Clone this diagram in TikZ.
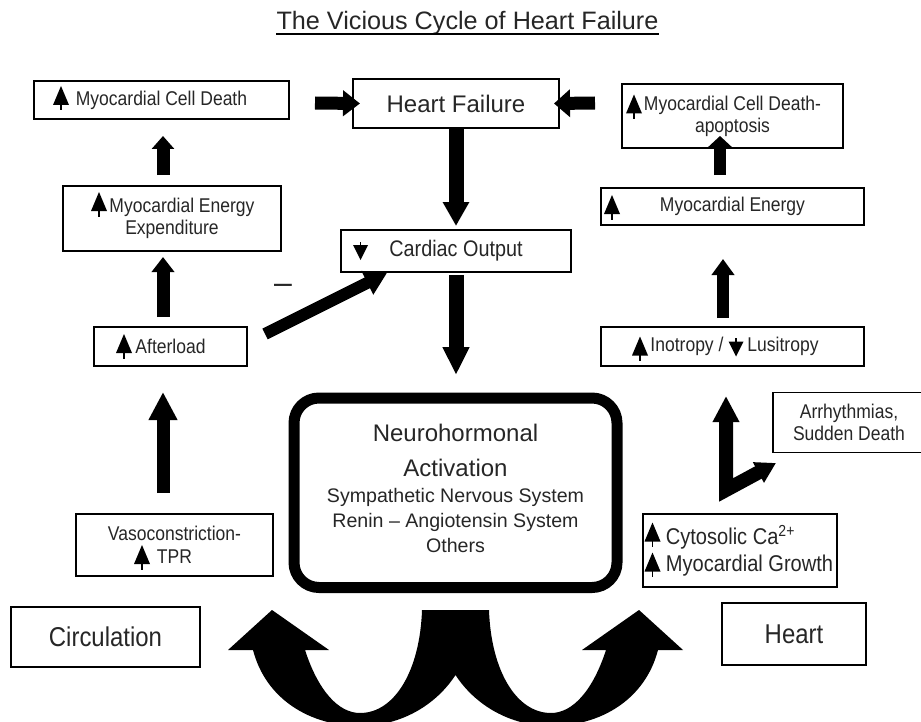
\documentclass[tikz,border=0pt]{standalone}
\usepackage{fontspec}
\setmainfont{Liberation Sans}
\newfontfamily\cnd{Liberation Sans}[FakeStretch=0.88]
\usetikzlibrary{arrows.meta}
\begin{document}
\begin{tikzpicture}[x=0.5pt,y=-0.5pt,
  box/.style={draw, line width=0.75pt, inner sep=0pt, outer sep=0pt, align=center, text=black!85},
  sm/.style={font=\cnd\fontsize{9.95}{11}\selectfont},
  lg/.style={font=\fontsize{12}{14}\selectfont},
  lgc/.style={font=\cnd\fontsize{13.6}{15}\selectfont},
  blk/.style n args={3}{draw, line width=#1, -{Triangle[width=#2,length=#3]}},
  upi/.pic={\fill (0,-9.5) -- (8,9.5) -- (-8,9.5) -- cycle; \draw[line width=0.6pt] (0,9) -- (0,15);},
  dni/.pic={\fill (0,7.5) -- (7.5,-7.5) -- (-7.5,-7.5) -- cycle; \draw[line width=0.6pt] (0,-7) -- (0,-11);},
]
\useasboundingbox (0,0) rectangle (921,722);

% title
\node[font=\fontsize{12.6}{15}\selectfont, inner sep=0pt, anchor=base, text=black!85] (title) at (467.5,30) {The Vicious Cycle of Heart Failure};
\draw[line width=1.2pt] ([yshift=-2pt]title.base west) -- ([yshift=-2pt]title.base east);

% boxes
\node[box, sm, minimum width=127.5pt, minimum height=19pt] (mcd) at (161.5,100) {Myocardial Cell Death};
\node[box, lg, minimum width=103pt, minimum height=24.5pt] (hf) at (456,103.5) {Heart Failure};
\node[box, sm, minimum width=110.5pt, minimum height=32pt] (apo) at (732.5,116) {Myocardial Cell Death-\\apoptosis};
\node[box, sm, minimum width=109pt, minimum height=32.5pt] (mee) at (172,218.5) {\hspace*{10pt}Myocardial Energy\\Expenditure};
\node[box, font=\cnd\fontsize{11.25}{12}\selectfont, minimum width=115pt, minimum height=21pt] (co) at (456,251) {Cardiac Output};
\node[box, sm, minimum width=131.5pt, minimum height=18.5pt] (me) at (732.5,206.5) {Myocardial Energy};
\node[box, sm, minimum width=76.5pt, minimum height=19.5pt] (aft) at (170.5,346.5) {Afterload};
\node[box, sm, minimum width=131.5pt, minimum height=19.5pt] (ino) at (732.5,346.5) {\hspace*{2pt}Inotropy /\hspace{12pt}Lusitropy};
\node[box, line width=5.5pt, rounded corners=12.5pt, minimum width=161.5pt, minimum height=94.75pt] (neuro) at (455.5,492.75) {};
\node[align=center, inner sep=0pt, text=black!85, font=\fontsize{9.8}{12.5}\selectfont] (neurotext) at ([yshift=2.4pt]neuro.center)
  {{\fontsize{12}{12}\selectfont Neurohormonal}\\[5pt]{\fontsize{12}{12}\selectfont Activation}\\[0.5pt]Sympathetic Nervous System\\Renin – Angiotensin System\\Others};
\node[box, font=\cnd\fontsize{9.95}{11.5}\selectfont, minimum width=98.5pt, minimum height=31pt] (vaso) at (174.5,545) {Vasoconstriction-\\TPR};
\node[box, sm, minimum width=76pt, minimum height=30pt] (arr) at (849,422.5) {Arrhythmias,\\Sudden Death};
\node[box, font=\cnd\fontsize{11.4}{13.5}\selectfont, align=left, minimum width=97pt, minimum height=36.5pt] (cyto) at (740,550.5)
  {\hspace*{9.5pt}Cytosolic Ca\textsuperscript{2+}\\\hspace*{9.5pt}Myocardial Growth};
\node[box, lgc, minimum width=94.5pt, minimum height=30pt] (circ) at (105.5,637) {Circulation};
\node[box, lgc, minimum width=72pt, minimum height=31pt] (heart) at (794,634) {Heart};

% small up/down icons
\pic at (61,95.5) {upi};
\pic at (99,201.5) {upi};
\pic at (124,343.5) {upi};
\pic at (634,104) {upi};
\pic at (612,204.5) {upi};
\pic at (640,346) {upi};
\pic at (142,554.5) {upi};
\pic at (652.5,532) {upi};
\pic at (652.5,562) {upi};
\pic at (360.5,252.5) {dni};
\pic at (736,349) {dni};

% minus sign
\node[font=\fontsize{16}{16}\selectfont, inner sep=0pt, text=black!85] (minus) at (283,289) {–};

% block arrows
\draw[blk={6.5pt}{12.5pt}{8.5pt}] ([shift={(26,3)}]mcd.east) -- ([shift={(7,0)}]hf.west);
\draw[blk={6.5pt}{13.5pt}{8pt}] ([shift={(-27,-13)}]apo.west) -- ([shift={(-5,0)}]hf.east);
\draw[blk={7.5pt}{12.5pt}{12pt}] (hf.south) -- ([shift={(0,-4)}]co.north);
\draw[blk={7.5pt}{12.5pt}{14pt}] ([shift={(0,3)}]co.south) -- ([shift={(0.5,-23)}]neuro.north);
\draw[blk={6.5pt}{11pt}{6.5pt}] ([shift={(-9,-11)}]mee.north) -- ([shift={(1.5,17)}]mcd.south);
\draw[blk={6.5pt}{11pt}{7.5pt}] ([shift={(-7.5,-10)}]aft.north) -- ([shift={(-9,6)}]mee.south);
\draw[blk={6.5pt}{13.5pt}{14pt}] ([shift={(-11.5,-21)}]vaso.north) -- ([shift={(-7.5,26)}]aft.south);
\draw[blk={6pt}{12.5pt}{11pt}] ([shift={(18,-12.5)}]aft.east) -- ([shift={(46,1)}]co.south west);
\draw[blk={6pt}{11.5pt}{5.5pt}] ([shift={(-12.5,-13)}]me.north) -- ([shift={(-12.5,-12)}]apo.south);
\draw[blk={6pt}{11pt}{8pt}] ([shift={(-9.5,-9)}]ino.north) -- ([shift={(-9.5,34)}]me.south);
\coordinate (lc) at ([shift={(-14,-24)}]cyto.north);
\draw[line width=7pt, line join=miter, {Triangle[width=12.5pt,length=13pt]}-{Triangle[width=11pt,length=10pt]}]
  ([shift={(-6.5,30)}]ino.south) -- (lc) -- ([shift={(3,10.5)}]arr.south west);

% bottom double curved arrow
\fill (272,610) -- (329,650) -- (305,650)
  .. controls (318,690) and (338,713) .. (360,713)
  .. controls (395,713) and (420,670) .. (422,610)
  -- (489,610)
  .. controls (491,670) and (516,713) .. (551,713)
  .. controls (573,713) and (593,690) .. (606,650)
  -- (582,650) -- (639,610) -- (683,650) -- (658,650)
  .. controls (645,700) and (600,726) .. (551,726)
  .. controls (510,726) and (475,705) .. (455.5,675)
  .. controls (436,705) and (401,726) .. (360,726)
  .. controls (311,726) and (266,700) .. (253,650)
  -- (228,650) -- cycle;
\end{tikzpicture}
\end{document}
